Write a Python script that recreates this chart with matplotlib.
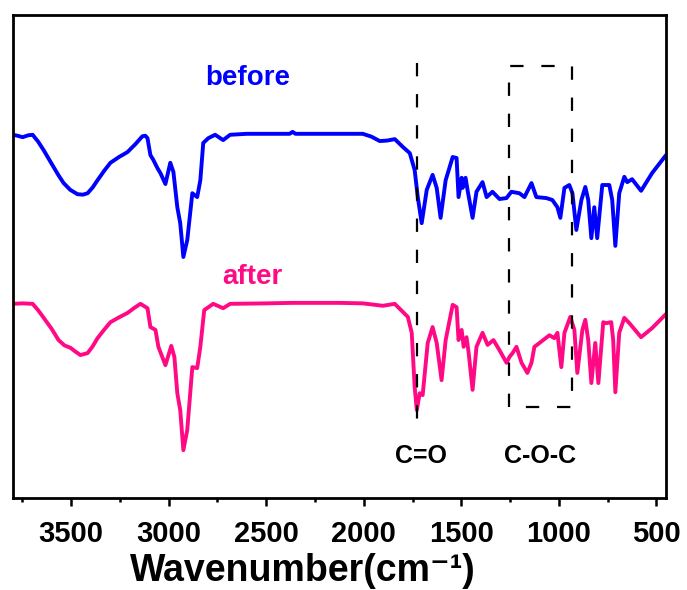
import matplotlib
matplotlib.use("Agg")
import matplotlib.pyplot as plt
from matplotlib.ticker import MultipleLocator

plt.rcParams['font.family'] = ['Liberation Sans', 'DejaVu Sans']
plt.rcParams['font.weight'] = 'bold'

# FTIR spectra (wavenumber in cm-1, transmittance in arbitrary units, offset)
wn_before = [3800, 3775, 3749, 3720, 3698, 3670, 3641, 3615, 3590, 3565, 3539, 3505, 3468,
             3440, 3416, 3390, 3365, 3330, 3299, 3255, 3212, 3170, 3135, 3120, 3109,
             3094, 3079, 3058, 3043, 3017, 2992, 2976, 2956, 2941, 2925, 2905, 2879, 2854,
             2838, 2823, 2797, 2762, 2721, 2685, 2600, 2380, 2365, 2350, 2122, 2005, 1960,
             1918, 1880, 1841, 1800, 1764, 1739, 1723, 1703, 1677, 1647, 1626, 1606, 1580,
             1544, 1524, 1514, 1498, 1493, 1478, 1468, 1442, 1422, 1391, 1370, 1340, 1304,
             1268, 1243, 1202, 1176, 1140, 1115, 1064, 1033, 1007, 992, 971, 946, 930, 910,
             884, 864, 849, 833, 818, 803, 777, 741, 726, 710, 690, 664, 649, 624, 578, 521, 450]
t_before = [75.2, 75.0, 74.7, 75.1, 75.2, 73.8, 72.0, 70.2, 68.5, 66.8, 65.2, 63.8, 62.9,
            62.8, 63.1, 64.3, 65.8, 67.8, 69.4, 70.6, 71.6, 73.3, 74.9, 75.0, 74.5,
            71.0, 70.0, 68.3, 67.3, 65.0, 69.4, 67.5, 60.2, 56.9, 49.9, 53.4, 63.1, 62.3,
            65.8, 73.5, 74.5, 75.2, 74.1, 75.2, 75.4, 75.4, 75.8, 75.4, 75.4, 75.4, 74.8,
            73.9, 74.0, 74.3, 72.7, 71.4, 67.9, 62.3, 56.9, 63.8, 66.9, 64.2, 58.0, 65.8,
            70.6, 70.4, 62.3, 66.3, 64.2, 66.3, 63.8, 58.0, 63.4, 65.4, 62.3, 63.4, 61.9,
            62.1, 63.4, 63.1, 62.3, 65.2, 62.3, 62.1, 61.7, 60.2, 58.0, 64.2, 64.8, 63.1, 55.5,
            61.7, 64.4, 61.7, 53.8, 60.2, 53.8, 64.8, 64.8, 61.7, 52.2, 63.1, 66.5, 65.4, 66.0,
            63.6, 67.3, 71.0]

wn_after = [3800, 3750, 3698, 3670, 3641, 3600, 3565, 3535, 3504, 3478, 3453, 3416, 3390,
            3365, 3330, 3299, 3255, 3212, 3175, 3145, 3109, 3094, 3068, 3053, 3017, 2987,
            2971, 2956, 2941, 2925, 2905, 2879, 2854, 2838, 2818, 2772, 2721, 2685, 2500,
            2370, 2122, 2005, 1902, 1841, 1774, 1754, 1739, 1728, 1713, 1698, 1672, 1647,
            1626, 1601, 1580, 1544, 1524, 1514, 1498, 1488, 1473, 1462, 1442, 1422, 1391,
            1365, 1335, 1304, 1268, 1253, 1237, 1217, 1191, 1161, 1140, 1125, 1099, 1048,
            1023, 1007, 987, 971, 941, 920, 905, 879, 864, 849, 833, 813, 797, 772, 757, 731,
            721, 710, 690, 664, 638, 578, 521, 450]
t_after = [40.2, 40.3, 40.2, 38.9, 37.3, 35.0, 32.7, 31.6, 31.1, 30.3, 29.6, 30.0, 31.4,
           33.1, 34.9, 36.4, 37.4, 38.3, 39.4, 40.2, 39.3, 35.4, 34.8, 31.3, 27.5, 31.5,
           29.2, 21.7, 18.2, 9.9, 14.1, 27.1, 26.9, 31.3, 38.9, 40.2, 39.3, 40.2, 40.3,
           40.4, 40.4, 40.3, 39.8, 40.2, 37.5, 34.2, 23.0, 18.2, 21.7, 21.3, 32.1, 35.4,
           32.1, 24.4, 32.7, 40.0, 39.5, 32.7, 34.8, 31.3, 33.3, 30.0, 22.4, 31.3, 34.2,
           31.7, 32.7, 30.6, 28.0, 29.2, 30.0, 31.3, 28.0, 25.9, 28.0, 31.3, 32.1, 33.7,
           33.1, 34.2, 27.1, 34.2, 37.5, 34.8, 25.9, 34.8, 36.9, 32.7, 23.8, 32.1, 23.8,
           36.4, 36.2, 36.4, 32.7, 21.9, 34.2, 37.3, 36.2, 33.3, 35.2, 38.1]

# marked bands
co_band = 1725
coc_band = (1255, 933)
xticks = [3500, 3000, 2500, 2000, 1500, 1000, 500]

blue = '#0000ff'
pink = '#ff0a84'

fig = plt.figure(figsize=(6.87, 5.90), dpi=100)
ax = fig.add_axes([0.0185, 0.1559, 0.951, 0.8187])

ax.plot(wn_before, t_before, color=blue, lw=2.8, solid_joinstyle='round', solid_capstyle='round')
ax.plot(wn_after, t_after, color=pink, lw=2.8, solid_joinstyle='round', solid_capstyle='round')

# dashed guides
ax.plot([co_band, co_band], [90.1, 14.1], color='black', lw=1.6, dashes=(6, 8))
x0, x1 = coc_band
ax.plot([x0, x0, x1, x1, x0], [18.8, 89.4, 89.4, 18.8, 18.8], color='black', lw=1.6, dashes=(6, 8))

ax.text(2596, 87.0, 'before', color=blue, fontsize=20, fontweight='bold', ha='center', va='center')
ax.text(2570, 45.8, 'after', color=pink, fontsize=20, fontweight='bold', ha='center', va='center')
ax.text(1705, 8.7, 'C=O', color='black', fontsize=18, fontweight='bold', ha='center', va='center')
ax.text(1096, 8.7, 'C-O-C', color='black', fontsize=18, fontweight='bold', ha='center', va='center')

ax.set_xlim(3800, 450)
ax.set_ylim(0, 100)
ax.set_xticks(xticks)
ax.xaxis.set_minor_locator(MultipleLocator(250))
ax.set_yticks([])
ax.tick_params(axis='x', which='major', direction='out', length=6, width=1.8, labelsize=21, pad=10)
ax.tick_params(axis='x', which='minor', direction='out', length=3, width=1.8)
for lab in ax.get_xticklabels():
    lab.set_fontweight('bold')
for s in ax.spines.values():
    s.set_linewidth(2.0)

ax.set_xlabel('Wavenumber(cm\u207b\u00b9)', fontsize=27, fontweight='bold', va='baseline')
ax.xaxis.set_label_coords(0.444, -0.172)

fig.savefig('out.png', dpi=100)
